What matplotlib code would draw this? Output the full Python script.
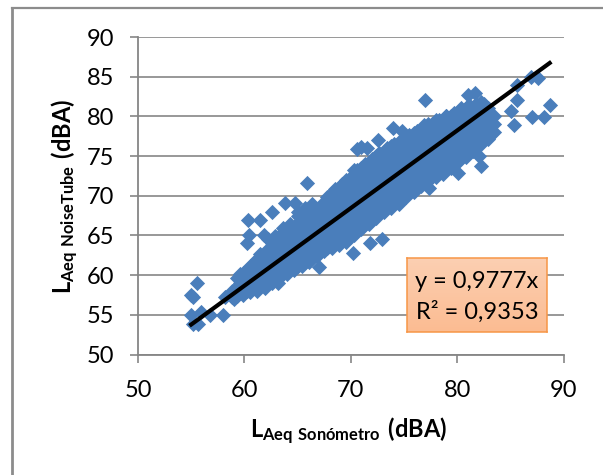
# LAeq NoiseTube vs sonometer scatter with trendline
import numpy as np
import matplotlib
matplotlib.use("Agg")
import matplotlib.pyplot as plt
from matplotlib.colors import LinearSegmentedColormap

plt.rcParams['font.family'] = ['Lato', 'DejaVu Sans']
plt.rcParams['mathtext.fontset'] = 'custom'
plt.rcParams['mathtext.bf'] = 'Lato:bold'
plt.rcParams['mathtext.rm'] = 'Lato:bold'  # parens in the axis titles come from rm

# main band, one y list per x column
col_x = [58.8, 59.3, 59.9, 60.5, 61.2, 61.9, 62.6, 63.3, 64.0, 64.7,
         65.4, 66.1, 66.8, 67.5, 68.2, 68.9, 69.6, 70.3, 71.0, 71.7,
         72.4, 73.1, 73.8, 74.5, 75.2, 75.9, 76.6, 77.3, 78.0, 78.7,
         79.4, 80.1, 80.8, 81.5, 82.2, 82.9, 83.5]
col_y = [
    [57.2, 58.0],
    [57.4, 58.5, 59.6],
    [57.5, 58.4, 59.3, 60.3],
    [57.9, 58.9, 59.9, 60.8, 61.2],
    [58.0, 59.1, 60.2, 61.3, 62.0],
    [58.4, 59.5, 60.6, 61.7, 62.8],
    [59.0, 60.1, 61.2, 62.3, 63.4, 64.0],
    [59.6, 60.7, 61.8, 62.9, 64.0, 64.8],
    [60.2, 61.3, 62.4, 63.5, 64.6, 65.5],
    [60.6, 61.7, 62.8, 63.9, 65.0, 66.1],
    [61.2, 62.3, 63.4, 64.5, 65.6, 66.7],
    [61.6, 62.8, 64.0, 65.2, 66.4, 67.4],
    [62.4, 63.5, 64.6, 65.7, 66.8, 67.9],
    [63.0, 64.1, 65.2, 66.3, 67.4, 68.5, 69.2],
    [63.4, 64.6, 65.8, 67.0, 68.2, 69.4, 70.4],
    [63.8, 65.0, 66.2, 67.4, 68.6, 69.8, 71.0],
    [64.2, 65.4, 66.6, 67.8, 69.0, 70.2, 71.4, 72.0],
    [65.0, 66.1, 67.2, 68.3, 69.4, 70.5, 71.6, 72.7, 73.2],
    [65.8, 66.9, 68.0, 69.1, 70.2, 71.3, 72.4, 73.5],
    [66.4, 67.5, 68.6, 69.7, 70.8, 71.9, 73.0, 74.1],
    [67.2, 68.3, 69.4, 70.5, 71.6, 72.7, 73.8, 75.0],
    [68.0, 69.1, 70.2, 71.3, 72.4, 73.5, 74.6, 75.5],
    [68.5, 69.6, 70.7, 71.8, 72.9, 74.0, 75.1, 76.3],
    [69.0, 70.2, 71.4, 72.6, 73.8, 75.0, 76.2, 76.8],
    [69.8, 70.9, 72.0, 73.1, 74.2, 75.3, 76.4, 77.3],
    [70.5, 71.6, 72.7, 73.8, 74.9, 76.0, 77.1, 77.9],
    [71.2, 72.3, 73.4, 74.5, 75.6, 76.7, 77.8, 78.3],
    [71.9, 73.0, 74.1, 75.2, 76.3, 77.4, 78.5, 79.0],
    [72.3, 73.4, 74.5, 75.6, 76.7, 77.8, 78.9, 79.5],
    [72.8, 73.9, 75.0, 76.1, 77.2, 78.3, 79.4],
    [73.5, 74.6, 75.7, 76.8, 77.9, 79.0, 80.0],
    [74.2, 75.3, 76.4, 77.5, 78.6, 79.7, 80.6],
    [74.9, 76.0, 77.1, 78.2, 79.3, 80.4, 81.0],
    [75.6, 76.7, 77.8, 78.9, 80.0, 81.1],
    [76.5, 77.6, 78.7, 79.8, 80.9, 81.8],
    [77.2, 78.3, 79.4, 80.5, 81.1],
    [78.0, 79.0, 80.0],
]

# second set of columns, between the first ones
mid_x = [59.6, 60.2, 60.9, 61.5, 62.2, 62.9, 63.6, 64.3, 65.0, 65.7,
         66.4, 67.1, 67.8, 68.5, 69.2, 69.9, 70.6, 71.3, 72.0, 72.7,
         73.4, 74.1, 74.8, 75.5, 76.2, 76.9, 77.6, 78.3, 79.0, 79.7,
         80.4, 81.1, 81.8, 82.5]
mid_y = [
    [58.0, 59.0, 60.1],
    [58.0, 58.9, 59.8, 60.7],
    [58.4, 59.5, 60.5, 61.5],
    [58.6, 59.6, 60.7, 61.8, 62.6],
    [59.0, 60.0, 61.1, 62.2, 63.3, 64.5],
    [59.5, 60.6, 61.7, 62.8, 63.9, 64.9],
    [60.1, 61.2, 62.3, 63.4, 64.5, 65.4, 66.0],
    [60.7, 61.8, 62.9, 64.0, 65.1, 66.0, 66.5],
    [61.1, 62.2, 63.3, 64.4, 65.5, 66.6, 67.5, 68.0],
    [61.6, 62.8, 63.9, 65.0, 66.1, 67.2, 68.5],
    [62.2, 63.4, 64.5, 65.6, 66.7, 67.8, 69.0],
    [62.9, 64.0, 65.1, 66.2, 67.3, 68.4],
    [63.4, 64.6, 65.7, 66.8, 67.9, 69.0, 69.8],
    [63.9, 65.1, 66.3, 67.5, 68.7, 69.9, 70.9],
    [64.4, 65.6, 66.8, 68.0, 69.2, 70.4, 71.5],
    [64.8, 66.0, 67.2, 68.4, 69.6, 70.8, 72.0],
    [65.6, 66.7, 67.8, 68.9, 70.0, 71.1, 72.2, 73.3],
    [66.4, 67.5, 68.6, 69.7, 70.8, 71.9, 73.0, 74.0],
    [67.0, 68.1, 69.2, 70.3, 71.4, 72.5, 73.6, 74.6],
    [67.8, 68.9, 70.0, 71.1, 72.2, 73.3, 74.4, 75.4],
    [68.6, 69.7, 70.8, 71.9, 73.0, 74.1, 75.2, 76.0],
    [69.2, 70.3, 71.4, 72.5, 73.6, 74.7, 75.8, 76.5],
    [69.7, 70.8, 72.0, 73.2, 74.4, 75.6, 76.6, 77.0],
    [70.4, 71.5, 72.6, 73.7, 74.8, 75.9, 77.0, 77.6],
    [71.1, 72.2, 73.3, 74.4, 75.5, 76.6, 77.7, 78.2],
    [71.8, 72.9, 74.0, 75.1, 76.2, 77.3, 78.4, 78.9],
    [72.4, 73.5, 74.6, 75.7, 76.8, 77.9, 79.0],
    [72.9, 74.0, 75.1, 76.2, 77.3, 78.4, 79.5],
    [73.4, 74.5, 75.6, 76.7, 77.8, 78.9, 80.0],
    [74.0, 75.1, 76.2, 77.3, 78.4, 79.5, 80.4],
    [74.8, 75.9, 77.0, 78.1, 79.2, 80.3, 81.0],
    [75.4, 76.5, 77.6, 78.7, 79.8, 80.9, 81.4],
    [76.2, 77.3, 78.4, 79.5, 80.6, 81.6],
    [77.0, 78.1, 79.2, 80.3, 81.5],
]

# isolated points outside the band
out_x = [55.0, 55.2, 55.5, 55.0, 55.2, 55.6, 55.9, 56.8, 58.0, 58.2, 59.0,
         60.3, 61.5, 62.6, 63.8, 64.8, 60.4, 60.2, 61.8, 67.0, 63.2, 65.9,
         77.0, 81.7, 81.0, 85.6, 85.6, 86.9, 87.6, 88.7, 87.0, 88.2, 85.3,
         85.1, 83.3, 82.1, 82.2, 80.1, 77.4, 74.0, 74.8, 72.6, 71.0, 70.6,
         71.5, 79.0, 71.8, 72.9, 70.2]
out_y = [57.5, 57.3, 59.0, 55.0, 53.9, 53.8, 55.4, 55.0, 55.0, 57.2, 57.0,
         67.0, 67.0, 67.9, 69.1, 69.1, 65.1, 64.0, 65.1, 61.0, 59.0, 71.6,
         82.1, 83.0, 82.7, 82.1, 84.0, 85.0, 84.8, 81.4, 79.9, 79.9, 78.9,
         80.7, 77.9, 75.0, 73.7, 72.9, 71.0, 78.5, 78.1, 77.0, 76.2, 75.9,
         76.0, 80.0, 64.1, 64.5, 62.8]

# trendline
slope = 0.9777
trend_x = [55.0, 88.7]

xticks = [50, 60, 70, 80, 90]
yticks = [50, 55, 60, 65, 70, 75, 80, 85, 90]

W, H = 603, 475
GREY = '#868686'
BLUE = '#4A7EBB'

fig = plt.figure(figsize=(W / 100, H / 100), dpi=100)

# outer chart border, only left and top show
fig.add_artist(plt.Line2D([12 / W, 12 / W], [0, 1 - 8 / H], color='#8c8c8c', lw=2.0))
fig.add_artist(plt.Line2D([12 / W, 1], [1 - 8 / H, 1 - 8 / H], color='#8c8c8c', lw=1.6))

ax = fig.add_axes([138 / W, 1 - 354.5 / H, 425.5 / W, 317.5 / H])
for x, ys in zip(col_x + mid_x, col_y + mid_y):
    ax.scatter([x] * len(ys), ys, marker='D', s=60, color=BLUE, linewidths=0, zorder=3)
ax.scatter(out_x, out_y, marker='D', s=60, color=BLUE, linewidths=0, zorder=3)
ax.plot(trend_x, [slope * v for v in trend_x], color='black', lw=3.0, zorder=4)

ax.set_xlim(50, 90)
ax.set_ylim(50, 90)
ax.set_xticks(xticks)
ax.set_yticks(yticks)
ax.grid(axis='y', color=GREY, lw=1.2)
ax.set_axisbelow(True)
ax.tick_params(axis='both', color=GREY, width=1.2, length=6, labelsize=17, labelcolor='black')
ax.tick_params(axis='x', pad=12.5)
ax.tick_params(axis='y', pad=11)
for side in ['top', 'right']:
    ax.spines[side].set_visible(False)
for side in ['left', 'bottom']:
    ax.spines[side].set_color(GREY)
    ax.spines[side].set_linewidth(1.3)

fig.text(349 / W, 1 - 431 / H, r"$\mathbf{L_{Aeq\ Sonómetro}\ (dBA)}$", fontsize=17,
         ha='center', va='center')
fig.text(65 / W, 1 - 196 / H, r"$\mathbf{L_{Aeq\ NoiseTube}\ (dBA)}$", fontsize=17,
         rotation=90, ha='center', va='center')

# trendline label box with the orange gradient
box = fig.add_axes([407 / W, 1 - 332 / H, 140 / W, 74 / H], zorder=5)
cmap = LinearSegmentedColormap.from_list('box', ['#FCCFB2', '#FBBC92'])
box.imshow(np.linspace(0, 1, 64).reshape(-1, 1), aspect='auto', cmap=cmap, extent=[0, 1, 0, 1])
box.set_xticks([])
box.set_yticks([])
for s in box.spines.values():
    s.set_color('#F79646')
    s.set_linewidth(1.1)
box.text(0.5, 0.68, "y = 0,9777x", fontsize=17, ha='center', va='center', color='black')
box.text(0.5, 0.27, "R² = 0,9353", fontsize=17, ha='center', va='center', color='black')

fig.savefig('out.png', dpi=100)
